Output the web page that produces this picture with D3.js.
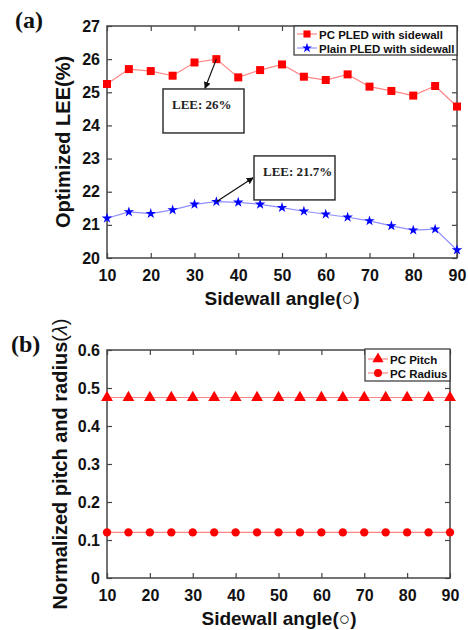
<!DOCTYPE html>
<html>
<head>
<meta charset="utf-8">
<script src="https://cdn.jsdelivr.net/npm/d3@7"></script>
<style>
  body { margin: 0; background: #fff; }
  svg { display: block; }
  .tick text { font-family: Arial, "Liberation Sans", sans-serif; font-weight: bold; font-size: 16px; fill: #111; }
  .tick line { stroke: #444; stroke-width: 1.2; }
</style>
</head>
<body>
<div class="chart"></div>
<script>
// sidewall angle (degrees)
var angles = [10, 15, 20, 25, 30, 35, 40, 45, 50, 55, 60, 65, 70, 75, 80, 85, 90];

// (a) optimized LEE (%)
var pcLee = [25.25, 25.70, 25.64, 25.50, 25.90, 26.00, 25.45, 25.67, 25.84, 25.47, 25.37, 25.54, 25.17, 25.04, 24.90, 25.19, 24.57];
var plainLee = [21.20, 21.39, 21.34, 21.45, 21.62, 21.70, 21.68, 21.62, 21.52, 21.41, 21.32, 21.23, 21.12, 20.97, 20.84, 20.87, 20.24];

// (b) normalized pitch and radius (lambda)
var pcPitch = [0.475, 0.475, 0.475, 0.475, 0.475, 0.475, 0.475, 0.475, 0.475, 0.475, 0.475, 0.475, 0.475, 0.475, 0.475, 0.475, 0.475];
var pcRadius = [0.12, 0.12, 0.12, 0.12, 0.12, 0.12, 0.12, 0.12, 0.12, 0.12, 0.12, 0.12, 0.12, 0.12, 0.12, 0.12, 0.12];

var xTicks = [10, 20, 30, 40, 50, 60, 70, 80, 90];
var leeTicks = [20, 21, 22, 23, 24, 25, 26, 27];
var normTicks = [0, 0.1, 0.2, 0.3, 0.4, 0.5, 0.6];

var annotations = [
    { text: "LEE: 26%", point: [35, 26.0], tip: [32.4, 25.12], box: [22.8, 25.1] },
    { text: "LEE: 21.7%", point: [35, 21.7], tip: [43.4, 22.42], box: [43.6, 23.08] }
];

var width = 468, height = 630;
var sans = "Arial, 'Liberation Sans', sans-serif";
var serif = "'Times New Roman', 'Liberation Serif', serif";

var svg = d3.select(".chart").append("svg")
    .attr("width", width)
    .attr("height", height);

var defs = svg.append("defs");
defs.append("marker")
    .attr("id", "arrow")
    .attr("viewBox", "0 0 10 10")
    .attr("refX", 9).attr("refY", 5)
    .attr("markerWidth", 7).attr("markerHeight", 7)
    .attr("markerUnits", "userSpaceOnUse")
    .attr("orient", "auto")
    .append("path")
    .attr("d", "M0,0L10,5L0,10Z")
    .attr("fill", "#111");

function frame(g, x, y, yFormat) {
    var x0 = x.range()[0], x1 = x.range()[1];
    var y0 = y.range()[0], y1 = y.range()[1];

    g.append("g").attr("transform", "translate(0," + y0 + ")")
        .call(d3.axisBottom(x).tickValues(xTicks).tickSizeInner(-5).tickSizeOuter(0).tickPadding(10))
        .call(function(a) { a.select(".domain").remove(); a.selectAll("text").attr("dy", "0.8em"); });
    g.append("g").attr("transform", "translate(0," + y1 + ")")
        .call(d3.axisTop(x).tickValues(xTicks).tickSizeInner(-5).tickSizeOuter(0).tickFormat(""))
        .call(function(a) { a.select(".domain").remove(); });
    g.append("g").attr("transform", "translate(" + x0 + ",0)")
        .call(d3.axisLeft(y).tickValues(y.ticksList).tickSizeInner(-5).tickSizeOuter(0).tickPadding(7).tickFormat(yFormat))
        .call(function(a) { a.select(".domain").remove(); });
    g.append("g").attr("transform", "translate(" + x1 + ",0)")
        .call(d3.axisRight(y).tickValues(y.ticksList).tickSizeInner(-5).tickSizeOuter(0).tickFormat(""))
        .call(function(a) { a.select(".domain").remove(); });

    g.append("rect")
        .attr("x", x0).attr("y", y1)
        .attr("width", x1 - x0).attr("height", y0 - y1)
        .attr("fill", "none")
        .attr("stroke", "#444")
        .attr("stroke-width", 1.5);
}

function series(g, x, y, values, lineColor, fill, symbol, size) {
    var pts = angles.map(function(a, i) { return [a, values[i]]; });
    g.append("path")
        .datum(pts)
        .attr("fill", "none")
        .attr("stroke", lineColor)
        .attr("stroke-width", 1.2)
        .attr("d", d3.line().x(function(d) { return x(d[0]); }).y(function(d) { return y(d[1]); }));
    g.selectAll(null)
        .data(pts)
        .enter().append("path")
        .attr("transform", function(d) { return "translate(" + x(d[0]) + "," + y(d[1]) + ")"; })
        .attr("d", d3.symbol().type(symbol).size(size))
        .attr("fill", fill);
}

function legend(g, x, y, w, h, items) {
    g.append("rect")
        .attr("x", x).attr("y", y).attr("width", w).attr("height", h)
        .attr("fill", "#fff").attr("stroke", "#333").attr("stroke-width", 1.2);
    items.forEach(function(it, i) {
        var cy = y + it.dy;
        g.append("line")
            .attr("x1", x + 3).attr("x2", x + 23).attr("y1", cy).attr("y2", cy)
            .attr("stroke", it.line).attr("stroke-width", 1.2);
        g.append("path")
            .attr("transform", "translate(" + (x + 13) + "," + cy + ")")
            .attr("d", d3.symbol().type(it.symbol).size(it.size))
            .attr("fill", it.fill);
        g.append("text")
            .attr("x", x + 25).attr("y", cy + 4.5)
            .style("font-family", sans).style("font-weight", "bold").style("font-size", "11.5px")
            .attr("fill", "#111")
            .text(it.name);
    });
}

// ---------- (a) ----------
var xa = d3.scaleLinear().domain([10, 90]).range([107, 457]);
var ya = d3.scaleLinear().domain([20, 27]).range([258, 26]);
ya.ticksList = leeTicks;
var ga = svg.append("g");
frame(ga, xa, ya, d3.format("d"));
series(ga, xa, ya, pcLee, "#ff8585", "#ff0000", d3.symbolSquare, 64);
series(ga, xa, ya, plainLee, "#8f8fff", "#0000ff", d3.symbolStar, 34);

annotations.forEach(function(an) {
    ga.append("line")
        .attr("x1", xa(an.point[0])).attr("y1", ya(an.point[1]))
        .attr("x2", xa(an.tip[0])).attr("y2", ya(an.tip[1]))
        .attr("stroke", "#111").attr("stroke-width", 1.2)
        .attr("marker-end", "url(#arrow)");
    var bx = xa(an.box[0]), by = ya(an.box[1]);
    ga.append("rect")
        .attr("x", bx).attr("y", by).attr("width", 81).attr("height", 44)
        .attr("fill", "#fff").attr("stroke", "#333").attr("stroke-width", 1.5);
    ga.append("text")
        .attr("x", bx + 9).attr("y", by + 20)
        .style("font-family", serif).style("font-weight", "bold").style("font-size", "13px")
        .attr("fill", "#222")
        .text(an.text);
});

legend(ga, 294, 26, 163, 29, [
    { name: "PC PLED with sidewall", dy: 8, line: "#ff8585", fill: "#ff0000", symbol: d3.symbolSquare, size: 50 },
    { name: "Plain PLED with sidewall", dy: 22, line: "#8f8fff", fill: "#0000ff", symbol: d3.symbolStar, size: 30 }
]);

ga.append("text")
    .attr("transform", "translate(70," + 142 + ") rotate(-90)")
    .attr("text-anchor", "middle")
    .style("font-family", sans).style("font-weight", "bold").style("font-size", "20px")
    .attr("fill", "#111")
    .text("Optimized LEE(%)");
ga.append("text")
    .attr("x", 282).attr("y", 305)
    .attr("text-anchor", "middle")
    .style("font-family", sans).style("font-weight", "bold").style("font-size", "19px")
    .attr("fill", "#111")
    .text("Sidewall angle(\u25CB)");
svg.append("text")
    .attr("x", 15).attr("y", 28)
    .style("font-family", serif).style("font-weight", "bold").style("font-size", "24px")
    .attr("fill", "#111")
    .text("(a)");

// ---------- (b) ----------
var xb = d3.scaleLinear().domain([10, 90]).range([107, 450]);
var yb = d3.scaleLinear().domain([0, 0.6]).range([578, 350]);
yb.ticksList = normTicks;
var gb = svg.append("g");
frame(gb, xb, yb, function(d) { return d === 0 ? "0" : d3.format(".1f")(d); });
series(gb, xb, yb, pcPitch, "#ff8585", "#ff0000", d3.symbolTriangle, 60);
series(gb, xb, yb, pcRadius, "#ff8585", "#ff0000", d3.symbolCircle, 55);

legend(gb, 365, 349, 85, 32, [
    { name: "PC Pitch", dy: 10, line: "#ff8585", fill: "#ff0000", symbol: d3.symbolTriangle, size: 55 },
    { name: "PC Radius", dy: 24, line: "#ff8585", fill: "#ff0000", symbol: d3.symbolCircle, size: 50 }
]);

var yt = gb.append("text")
    .attr("transform", "translate(67," + 464 + ") rotate(-90)")
    .attr("text-anchor", "middle")
    .style("font-family", sans).style("font-weight", "bold").style("font-size", "20px")
    .attr("fill", "#111");
yt.append("tspan").text("Normalized pitch and radius");
yt.append("tspan").style("font-weight", "normal").text("(");
yt.append("tspan").style("font-weight", "normal").style("font-style", "italic").text("\u03BB");
yt.append("tspan").style("font-weight", "normal").text(")");

gb.append("text")
    .attr("x", 279).attr("y", 625)
    .attr("text-anchor", "middle")
    .style("font-family", sans).style("font-weight", "bold").style("font-size", "19px")
    .attr("fill", "#111")
    .text("Sidewall angle(\u25CB)");
svg.append("text")
    .attr("x", 11).attr("y", 352)
    .style("font-family", serif).style("font-weight", "bold").style("font-size", "24px")
    .attr("fill", "#111")
    .text("(b)");
</script>
</body>
</html>
